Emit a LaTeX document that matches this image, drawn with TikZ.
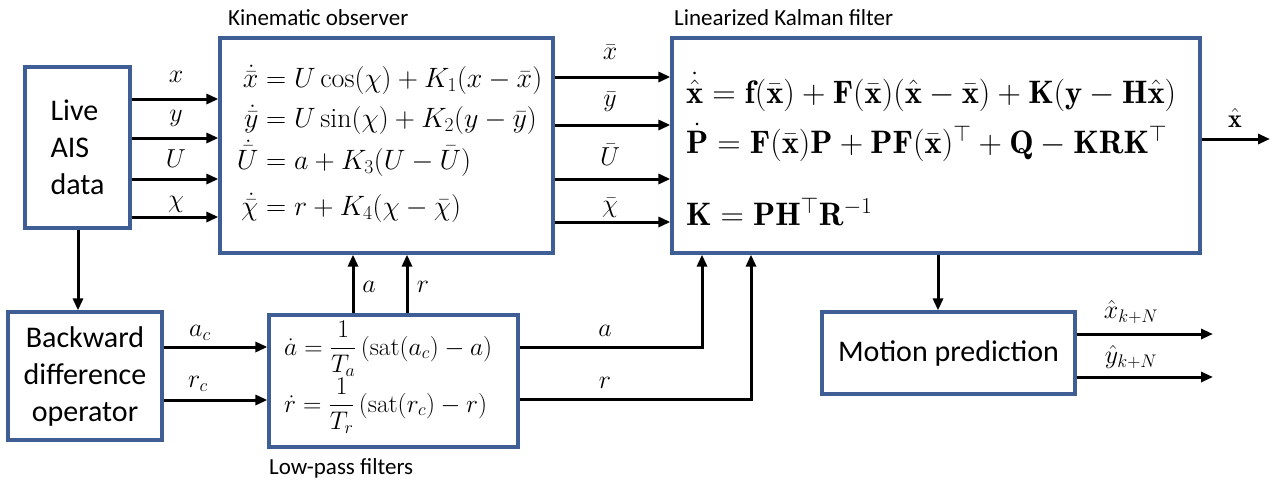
\RequirePackage{fix-cm}
\documentclass[tikz,border=0pt]{standalone}
\usepackage{amsmath}
\usepackage{fontspec}
\newfontfamily\carlito{Carlito}
\usetikzlibrary{arrows.meta}
\definecolor{boxblue}{RGB}{63,94,150}
\begin{document}
\begin{tikzpicture}[x=1pt,y=-1pt,
  blk/.style={draw=boxblue,line width=3.2pt,fill=white,inner sep=0pt},
  conn/.style={line width=3pt,-{Triangle[length=12pt,width=10pt]}},
  lbl/.style={font=\fontsize{26}{30}\selectfont,inner sep=0pt},
  txt/.style={font=\carlito\fontsize{30}{37}\selectfont},
  ttl/.style={font=\carlito\fontsize{23}{28}\selectfont,anchor=base west,inner sep=0pt},
  eq/.style={font=\fontsize{28}{32}\selectfont,anchor=base west,inner sep=0pt},
  beq/.style={font=\fontsize{32.5}{36}\selectfont,anchor=base west,inner sep=0pt},
  leq/.style={font=\fontsize{25.5}{30}\selectfont,anchor=base west,inner sep=0pt}]
\useasboundingbox[fill=white] (0,0) rectangle (1283,483);

% blocks
\node[blk,txt,align=left,minimum width=105pt,minimum height=161pt] (ais) at (77.5,147.5) {Live\\AIS\\data};
\node[blk,minimum width=333pt,minimum height=215pt] (ko) at (386.5,145.5) {};
\node[blk,minimum width=528pt,minimum height=215pt] (kf) at (936,145.5) {};
\node[blk,txt,align=center,minimum width=154pt,minimum height=128pt] (bd) at (85,376) {Backward\\difference\\operator};
\node[blk,minimum width=249pt,minimum height=132pt] (lp) at (393.5,381) {};
\node[blk,txt,minimum width=253pt,minimum height=82pt] (mp) at (948.5,353) {Motion prediction};

% titles
\node[ttl] (tko) at (228,25) {Kinematic observer};
\node[ttl] (tkf) at (674,25) {Linearized Kalman filter};
\node[ttl] (tlp) at (269,474) {Low-pass filters};

% kinematic observer equations
\node[eq] (e1) at (233,87) {$\makebox[0.9em][r]{$\dot{\bar{x}}$} = U\cos(\chi) + K_1(x-\bar{x})$};
\node[eq] (e2) at (233,127) {$\makebox[0.9em][r]{$\dot{\bar{y}}$} = U\sin(\chi) + K_2(y-\bar{y})$};
\node[eq] (e3) at (233,169) {$\makebox[0.9em][r]{$\dot{\bar{U}}$} = a + K_3(U-\bar{U})$};
\node[eq] (e4) at (233,215) {$\makebox[0.9em][r]{$\dot{\bar{\chi}}$} = r + K_4(\chi-\bar{\chi})$};

% Kalman filter equations
\node[beq] (k1) at (686,103) {$\dot{\hat{\mathbf{x}}} = \mathbf{f}(\bar{\mathbf{x}}) + \mathbf{F}(\bar{\mathbf{x}})(\hat{\mathbf{x}}-\bar{\mathbf{x}}) + \mathbf{K}(\mathbf{y}-\mathbf{H}\hat{\mathbf{x}})$};
\node[beq] (k2) at (686,153) {$\dot{\mathbf{P}} = \mathbf{F}(\bar{\mathbf{x}})\mathbf{P} + \mathbf{P}\mathbf{F}(\bar{\mathbf{x}})^{\top} + \mathbf{Q} - \mathbf{K}\mathbf{R}\mathbf{K}^{\top}$};
\node[beq] (k3) at (686,225) {$\mathbf{K} = \mathbf{P}\mathbf{H}^{\top}\mathbf{R}^{-1}$};

% low-pass filter equations
\node[leq] (l1) at (284,355) {$\dot{a} = \dfrac{1}{T_a}\left(\mathrm{sat}(a_c)-a\right)$};
\node[leq] (l2) at (284,412) {$\dot{r} = \dfrac{1}{T_r}\left(\mathrm{sat}(r_c)-r\right)$};

% AIS -> kinematic observer
\draw[conn] (ais.east |- 0,99) -- (ko.west |- 0,99);
\draw[conn] (ais.east |- 0,138) -- (ko.west |- 0,138);
\draw[conn] (ais.east |- 0,179) -- (ko.west |- 0,179);
\draw[conn] (ais.east |- 0,217) -- (ko.west |- 0,217);
\node[lbl] (lx) at (176,77) {$x$};
\node[lbl] (ly) at (176,118) {$y$};
\node[lbl] (lU) at (176,159) {$U$};
\node[lbl] (lchi) at (176,204) {$\chi$};

% kinematic observer -> Kalman filter
\draw[conn] (ko.east |- 0,77) -- (kf.west |- 0,77);
\draw[conn] (ko.east |- 0,125) -- (kf.west |- 0,125);
\draw[conn] (ko.east |- 0,179) -- (kf.west |- 0,179);
\draw[conn] (ko.east |- 0,222) -- (kf.west |- 0,222);
\node[lbl] (lxb) at (610,52) {$\bar{x}$};
\node[lbl] (lyb) at (610,102) {$\bar{y}$};
\node[lbl] (lUb) at (610,155) {$\bar{U}$};
\node[lbl] (lchib) at (610,208) {$\bar{\chi}$};

% AIS -> backward difference
\draw[conn] (ais.south -| 78,0) -- (bd.north -| 78,0);

% backward difference -> low-pass
\draw[conn] (bd.east |- 0,347) -- (lp.west |- 0,347);
\draw[conn] (bd.east |- 0,400) -- (lp.west |- 0,400);
\node[lbl] (lac) at (200,333) {$a_c$};
\node[lbl] (lrc) at (198,384) {$r_c$};

% low-pass -> kinematic observer
\draw[conn] (lp.north -| 353,0) -- (ko.south -| 353,0);
\draw[conn] (lp.north -| 407,0) -- (ko.south -| 407,0);
\node[lbl] (la1) at (369,287) {$a$};
\node[lbl] (lr1) at (423,287) {$r$};

% low-pass -> Kalman filter
\draw[conn] (lp.east |- 0,347) -- (702,347) -- (kf.south -| 702,0);
\draw[conn] (lp.east |- 0,399) -- (751,399) -- (kf.south -| 751,0);
\node[lbl] (la2) at (605,331) {$a$};
\node[lbl] (lr2) at (605,383) {$r$};

% Kalman filter outputs
\coordinate (xhatend) at (1270,139);
\draw[conn] (kf.east |- xhatend) -- (xhatend);
\node[lbl] (lxh) at (1235,118) {$\hat{\mathbf{x}}$};
\draw[conn] (kf.south -| 938,0) -- (mp.north -| 938,0);

% motion prediction outputs
\coordinate (xo) at (1213,334);
\coordinate (yo) at (1213,377);
\draw[conn] (mp.east |- xo) -- (xo);
\draw[conn] (mp.east |- yo) -- (yo);
\node[lbl] (lxk) at (1131,312) {$\hat{x}_{k+N}$};
\node[lbl] (lyk) at (1131,357) {$\hat{y}_{k+N}$};
\end{tikzpicture}
\end{document}
